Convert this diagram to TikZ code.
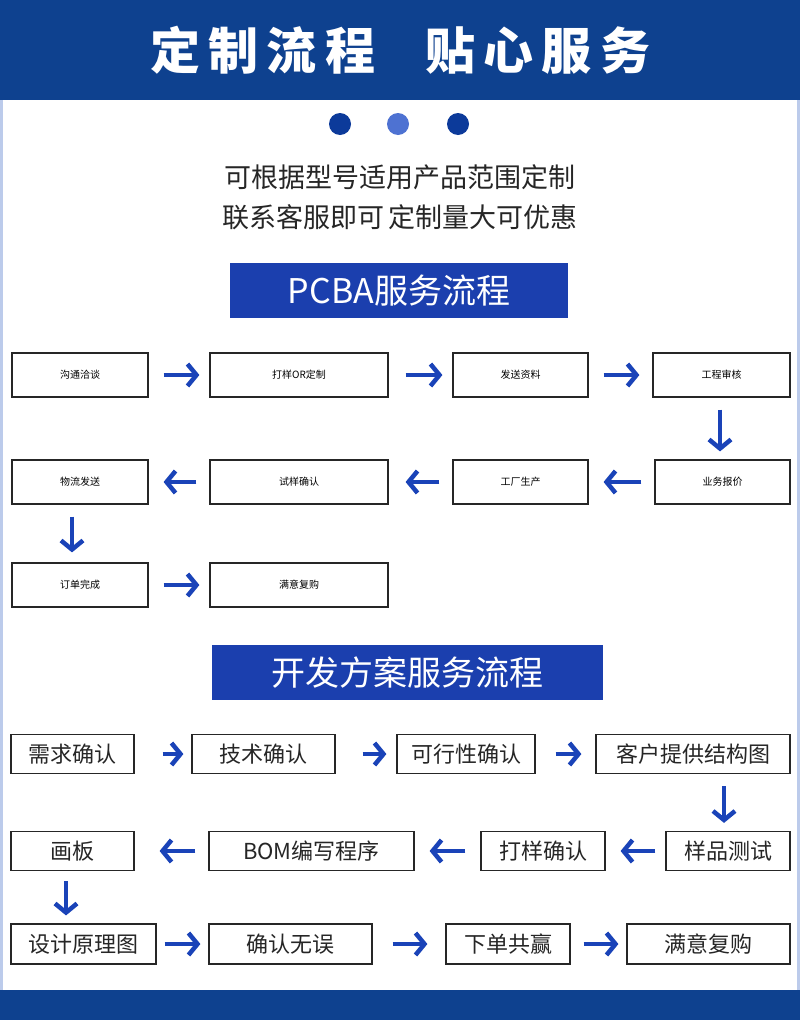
\documentclass[tikz,border=0pt]{standalone}
\usepackage{fontspec}
\setmainfont{Noto Sans CJK SC}
\usetikzlibrary{arrows.meta}
\definecolor{hdr}{HTML}{0E418F}
\definecolor{ban}{HTML}{1B3FAE}
\definecolor{arr}{HTML}{1A43B8}
\definecolor{dot2}{HTML}{4E72D2}
\definecolor{edge}{HTML}{BCCBEB}
\tikzset{
 bx/.style={draw=black!85,line width=1.2pt,inner sep=0pt,anchor=center,font=\fontsize{22}{24}\selectfont,text=black!85},
 ar/.style={draw=arr,line width=4.5pt,-{Straight Barb[length=9pt,width=22pt]}},
 bn/.style={fill=ban,text=white,inner sep=0pt,font=\fontsize{34}{38}\selectfont},
}
\newcommand{\bxat}[5]{\node[bx,minimum width=#3-#2,minimum height=#5] (#1) at ({(#2+#3)/2},#4) {};}
\begin{document}
\begin{tikzpicture}[x=1pt,y=-1pt]
\useasboundingbox (0,0) rectangle (800,1020);
\fill[white] (0,0) rectangle (800,1020);
\fill[edge] (0,0) rectangle (3,1020);
\fill[edge] (797,0) rectangle (800,1020);
\fill[hdr] (0,0) rectangle (800,100);
\fill[hdr] (0,990) rectangle (800,1020);
\node[text=white,font=\fontsize{50}{54}\selectfont\bfseries] (title) at (400,50) {定\,制\,流\,程\quad 贴\,心\,服\,务};
\fill[hdr!90!blue] (340,124) circle (11);
\fill[dot2] (398,124) circle (11);
\fill[hdr!90!blue] (458,124) circle (11);
\node[font=\fontsize{27}{30}\selectfont,text=black!85] (l1) at (400,177) {可根据型号适用产品范围定制};
\node[font=\fontsize{27}{30}\selectfont,text=black!85] (l2) at (400,217) {联系客服即可\,定制量大可优惠};
\node[bn,minimum width=338,minimum height=55] (b1) at (399,290.5) {PCBA服务流程};
\node[bn,minimum width=391,minimum height=55] (b2) at (407.5,672.5) {开发方案服务流程};
% PCBA rows
\bxat{a1}{12}{148}{375}{44}\node at (a1){沟通洽谈};
\bxat{a2}{210}{388}{375}{44}\node at (a2){打样OR定制};
\bxat{a3}{453}{588}{375}{44}\node at (a3){发送资料};
\bxat{a4}{653}{790}{375}{44}\node at (a4){工程审核};
\bxat{a5}{655}{790}{482}{44}\node at (a5){业务报价};
\bxat{a6}{453}{588}{482}{44}\node at (a6){工厂生产};
\bxat{a7}{210}{388}{482}{44}\node at (a7){试样确认};
\bxat{a8}{12}{148}{482}{44}\node at (a8){物流发送};
\bxat{a9}{12}{148}{585}{44}\node at (a9){订单完成};
\bxat{a10}{210}{388}{585}{44}\node at (a10){满意复购};
\tikzset{every node/.append style={font=\fontsize{22}{24}\selectfont,text=black!85}}
\draw[ar] ([xshift=15]a1.east) -- ([xshift=-10]a2.west);
\draw[ar] ([xshift=17]a2.east) -- ([xshift=-10]a3.west);
\draw[ar] ([xshift=15]a3.east) -- ([xshift=-13]a4.west);
\draw[ar] ([yshift=-12]a4.south -| 720,0) -- ([yshift=8]a5.north -| 720,0);
\draw[ar] ([xshift=-13]a5.west) -- ([xshift=15]a6.east);
\draw[ar] ([xshift=-13]a6.west) -- ([xshift=17]a7.east);
\draw[ar] ([xshift=-13]a7.west) -- ([xshift=15]a8.east);
\draw[ar] ([yshift=-12]a8.south -| 72,0) -- ([yshift=10]a9.north -| 72,0);
\draw[ar] ([xshift=15]a9.east) -- ([xshift=-10]a10.west);
% dev rows
\bxat{c1}{11}{134}{754}{39}\node at (c1){需求确认};
\bxat{c2}{192}{335}{754}{39}\node at (c2){技术确认};
\bxat{c3}{397}{535}{754}{39}\node at (c3){可行性确认};
\bxat{c4}{596}{790}{754}{39}\node at (c4){客户提供结构图};
\bxat{c5}{666}{790}{851}{39}\node at (c5){样品测试};
\bxat{c6}{481}{605}{851}{39}\node at (c6){打样确认};
\bxat{c7}{209}{414}{851}{39}\node at (c7){BOM编写程序};
\bxat{c8}{11}{134}{851}{39}\node at (c8){画板};
\bxat{c9}{11}{156}{944}{40}\node at (c9){设计原理图};
\bxat{c10}{209}{372}{944}{40}\node at (c10){确认无误};
\bxat{c11}{446}{570}{944}{40}\node at (c11){下单共赢};
\bxat{c12}{627}{790}{944}{40}\node at (c12){满意复购};
\draw[ar] ([xshift=28]c1.east) -- ([xshift=-8]c2.west);
\draw[ar] ([xshift=27]c2.east) -- ([xshift=-10]c3.west);
\draw[ar] ([xshift=20]c3.east) -- ([xshift=-14]c4.west);
\draw[ar] ([yshift=-12]c4.south -| 724,0) -- ([yshift=8]c5.north -| 724,0);
\draw[ar] ([xshift=-10]c5.west) -- ([xshift=15]c6.east);
\draw[ar] ([xshift=-15]c6.west) -- ([xshift=15]c7.east);
\draw[ar] ([xshift=-13]c7.west) -- ([xshift=25]c8.east);
\draw[ar] ([yshift=-10]c8.south -| 66,0) -- ([yshift=8]c9.north -| 66,0);
\draw[ar] ([xshift=8]c9.east) -- ([xshift=-8]c10.west);
\draw[ar] ([xshift=20]c10.east) -- ([xshift=-18]c11.west);
\draw[ar] ([xshift=13]c11.east) -- ([xshift=-8]c12.west);
\end{tikzpicture}
\end{document}
